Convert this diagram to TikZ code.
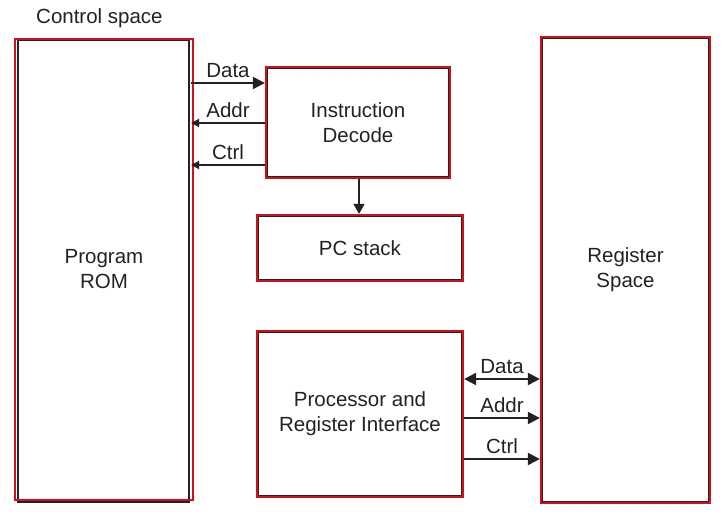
\documentclass[tikz,border=0pt]{standalone}
\usepackage{fontspec}
\setmainfont{Liberation Sans}
\usetikzlibrary{arrows.meta}
\definecolor{boxred}{HTML}{D0101A}
\definecolor{ink}{HTML}{222222}
\begin{document}
\begin{tikzpicture}[x=1pt,y=-1pt,
  font=\fontsize{20.5}{25}\selectfont, text=ink,
  blk/.style={rectangle, draw=boxred, line width=2.2pt, inner sep=0pt, align=center,
    path picture={\draw[ink, line width=1.1pt]
      ([xshift=1.4pt,yshift=-1.4pt]path picture bounding box.north west) rectangle
      ([xshift=-1.4pt,yshift=1.4pt]path picture bounding box.south east);}},
  arr/.style={draw=ink, line width=2pt, -{Triangle[length=12pt,width=12pt]}},
  sarr/.style={draw=ink, line width=1.6pt, -{Triangle[length=8pt,width=8pt]}},
  varr/.style={draw=ink, line width=1.6pt, -{Triangle[length=10pt,width=11pt]}},
  darr/.style={draw=ink, line width=2pt, {Triangle[length=12pt,width=12pt]}-{Triangle[length=12pt,width=12pt]}},
  lbl/.style={midway, anchor=base, yshift=5.5pt, inner sep=0pt}]
\useasboundingbox (0,0) rectangle (726,518);
\node[anchor=base west, inner sep=0pt] (title) at (36,24) {Control space};
% Program ROM with separate inner black frame
\draw[ink, line width=1.3pt] (18,40) rectangle (189,502);
\node[rectangle, draw=boxred, line width=2.2pt, inner sep=0pt, align=center,
  minimum width=178pt, minimum height=461pt] (rom) at (104,269.5) {Program\\ROM};
\node[blk, minimum width=184pt, minimum height=111pt] (id) at (358,122.5) {Instruction\\Decode};
\node[blk, minimum width=206pt, minimum height=66pt] (pc) at (360,248) {PC stack};
\node[blk, minimum width=206pt, minimum height=166pt] (proc) at (360,414) {Processor and\\Register Interface};
\node[blk, minimum width=169pt, minimum height=466pt] (reg) at (625.5,270) {Register\\Space};
% left connectors
\draw[arr] ([xshift=-3pt]rom.east |- 0,83) -- (id.west |- 0,83) node[lbl] {Data};
\draw[sarr] (id.west |- 0,123) -- ([xshift=-3pt]rom.east |- 0,123) node[lbl] {Addr};
\draw[sarr] (id.west |- 0,165) -- ([xshift=-3pt]rom.east |- 0,165) node[lbl] {Ctrl};
\draw[varr] (id.south -| 359,0) -- (pc.north -| 359,0);
% right connectors
\draw[darr] (proc.east |- 0,379) -- (reg.west |- 0,379) node[lbl] {Data};
\draw[arr] (proc.east |- 0,418) -- (reg.west |- 0,418) node[lbl] {Addr};
\draw[arr] (proc.east |- 0,459) -- (reg.west |- 0,459) node[lbl] {Ctrl};
\end{tikzpicture}
\end{document}
